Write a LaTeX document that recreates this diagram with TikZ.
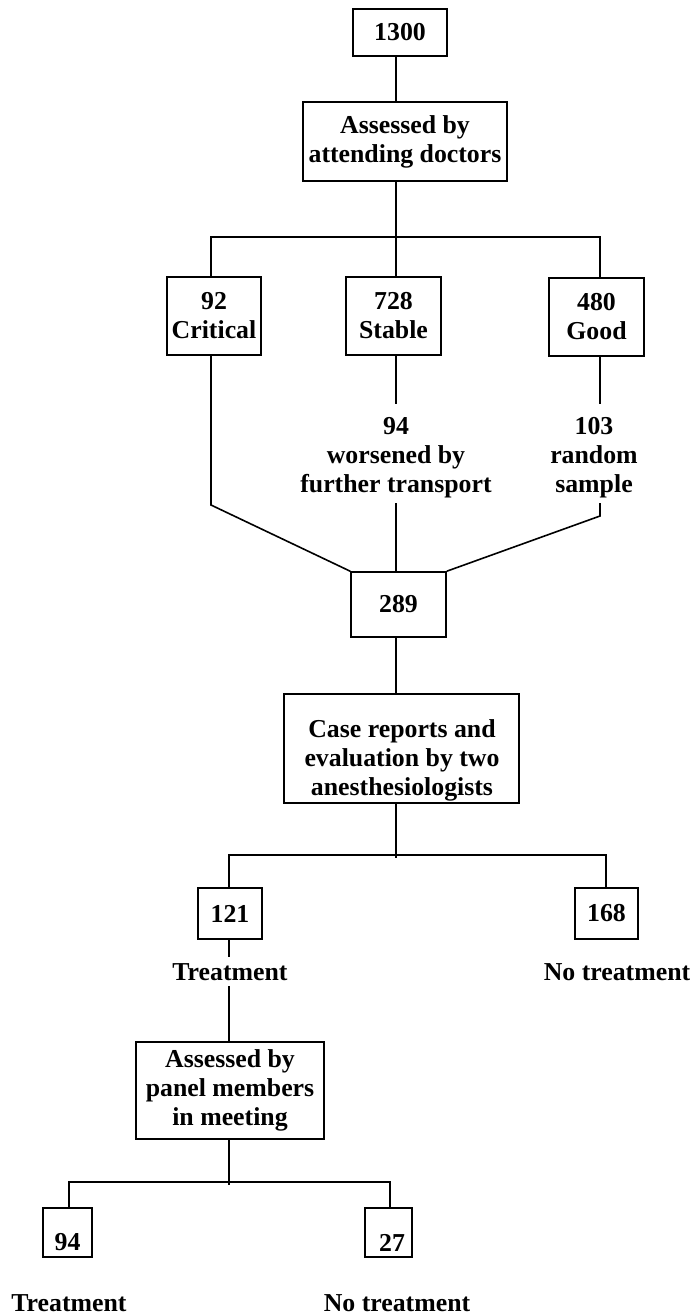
\documentclass[tikz,border=0pt]{standalone}
\usepackage{fontspec}
\setmainfont{Liberation Serif}
\begin{document}
\begin{tikzpicture}[x=1pt,y=-1pt,
  every node/.style={font=\fontsize{25.8}{29}\selectfont\bfseries, inner sep=0pt, align=center},
  box/.style={draw, line width=1.6pt},
  link/.style={line width=1.6pt}]
\useasboundingbox (0,0) rectangle (693,1315);
% boxes and labels
\node[box, minimum width=94pt, minimum height=47pt] (n1300) at (400,32.5) {1300};
\node[box, minimum width=204pt, minimum height=79pt] (assess) at (405,141.5) {Assessed by\\attending doctors};
\node[box, minimum width=94pt, minimum height=78pt] (crit) at (214,316) {92\\Critical};
\node[box, minimum width=95pt, minimum height=78pt] (stable) at (393.5,316) {728\\Stable};
\node[box, minimum width=95pt, minimum height=78pt] (good) at (596.5,317) {480\\Good};
\node (stableT) at (396,457.5) {94\\worsened by\\further transport};
\node (goodT) at (594,457.5) {103\\random\\sample};
\node[box, minimum width=95pt, minimum height=65pt] (p289) at (398.5,604.5) {289};
\node[box, minimum width=235pt, minimum height=109pt] (case) at (401.5,748.5) {};
\node (caseT) at (402,760) {Case reports and\\evaluation by two\\anesthesiologists};
\node[box, minimum width=64pt, minimum height=51pt] (n121) at (230,913.5) {121};
\node[box, minimum width=63pt, minimum height=51pt] (n168) at (606.5,913.5) {168};
\node (treat1) at (230,972) {Treatment};
\node (notreat1) at (617,972) {No treatment};
\node[box, minimum width=188pt, minimum height=97pt] (panel) at (230,1090.5) {Assessed by\\panel members\\in meeting};
\node[box, minimum width=49pt, minimum height=49pt] (n94) at (67.5,1232.5) {\raisebox{-10pt}[\height][\depth]{94}};
\node[box, minimum width=47pt, minimum height=49pt] (n27) at (388.5,1232.5) {\hspace*{7pt}\raisebox{-10pt}[\height][\depth]{27}};
\node (treat2) at (69,1303) {Treatment};
\node (notreat2) at (397,1303) {No treatment};
% coordinates for connector bends and free ends
\coordinate (sp) at (396,0);
\coordinate (hL) at (211,237);
\coordinate (hM) at (396,237);
\coordinate (hR) at (600,237);
\coordinate (critBend) at (211,505);
\coordinate (stA) at (396,404);
\coordinate (stB) at (396,503);
\coordinate (gdA) at (600,404);
\coordinate (gdB) at (600,503);
\coordinate (gdBend) at (600,516);
\coordinate (h2L) at (229,855);
\coordinate (h2M) at (396,855);
\coordinate (h2R) at (606,855);
\coordinate (tA) at (229,957);
\coordinate (tB) at (229,986);
\coordinate (h3L) at (69,1182);
\coordinate (h3M) at (229,1182);
\coordinate (h3R) at (390,1182);
% connectors
\draw[link] (n1300.south -| sp) -- (assess.north -| sp);
\draw[link] (assess.south -| sp) -- (hM);
\draw[link] (crit.north -| hL) -- (hL) -- (hR) -- (good.north -| hR);
\draw[link] (hM) -- (stable.north -| hM);
\draw[link] (crit.south -| hL) -- (critBend) -- (p289.north west);
\draw[link] (stable.south -| sp) -- (stA);
\draw[link] (stB) -- (p289.north -| sp);
\draw[link] (good.south -| hR) -- (gdA);
\draw[link] (gdB) -- (gdBend) -- (p289.north east);
\draw[link] (p289.south -| sp) -- (case.north -| sp);
\draw[link] (case.south -| sp) -- ([yshift=-3pt]h2M);
\draw[link] (n121.north -| h2L) -- (h2L) -- (h2R) -- (n168.north -| h2R);
\draw[link] (n121.south -| tA) -- (tA);
\draw[link] (tB) -- (panel.north -| tB);
\draw[link] (panel.south -| h3M) -- ([yshift=-3pt]h3M);
\draw[link] (n94.north -| h3L) -- (h3L) -- (h3R) -- (n27.north -| h3R);
\end{tikzpicture}
\end{document}
